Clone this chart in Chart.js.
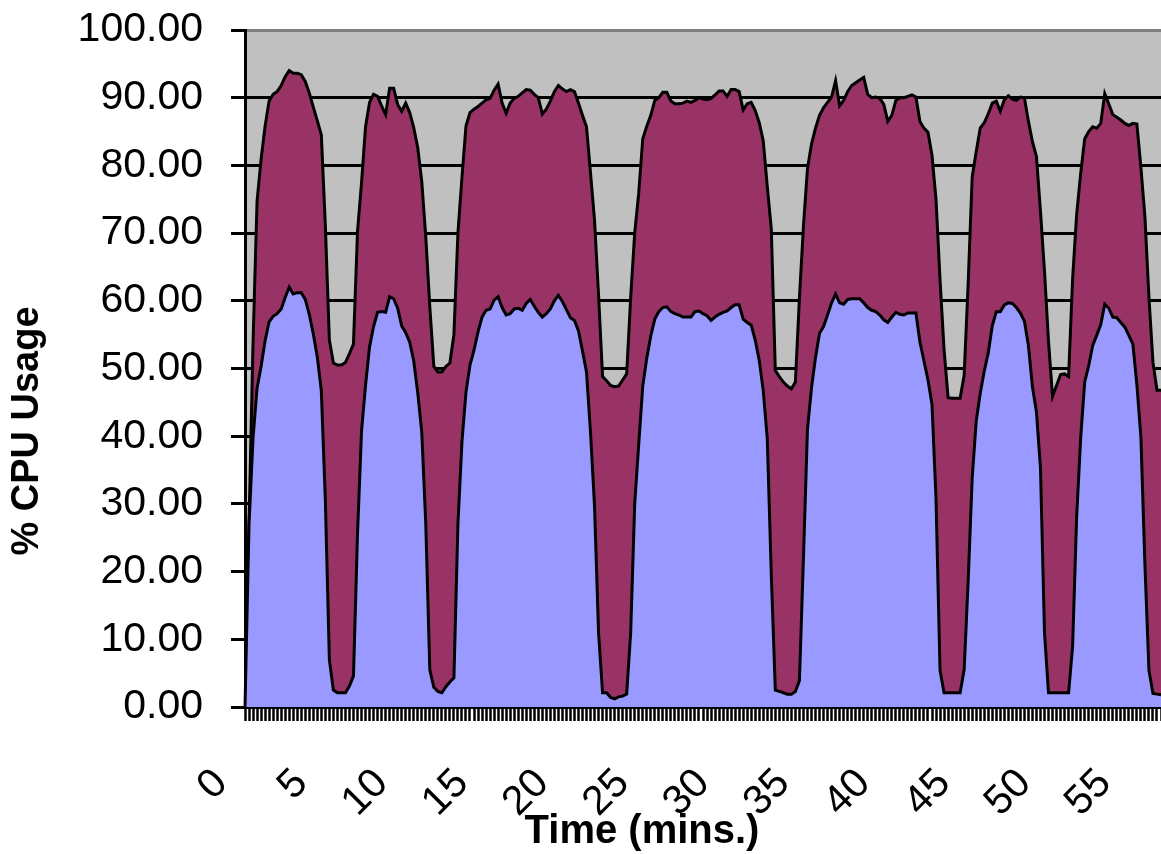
<!DOCTYPE html>
<html>
<head>
<meta charset="utf-8">
<title>% CPU Usage</title>
<script src="https://cdn.jsdelivr.net/npm/chart.js@4.4.1/dist/chart.umd.min.js"></script>
<style>
html, body { margin:0; padding:0; background:#fff; overflow:hidden; }
canvas { display:block; }
</style>
</head>
<body>
<canvas id="cpuChart" width="1161" height="854"></canvas>
<script>
// =======================
// DATA - one sample every 15 s
// =======================
const samplesPerLabel = 20; // a label every 5 minutes
const tickLabels = ['0', '5', '10', '15', '20', '25', '30', '35', '40', '45', '50', '55'];

// top edge of the stacked areas (total cpu)
const totalCpu = [
 0, 27, 53.8, 74.7, 80.9, 85.8, 89.5, 90.5, 90.9, 91.8,
 93.1, 94, 93.6, 93.6, 93.4, 92.4, 90.7, 88.6, 86.6, 84.5,
 71.1, 54.2, 50.8, 50.5, 50.5, 50.9, 52.2, 53.6, 70.2, 77.4,
 85.7, 89.3, 90.5, 90.2, 88.8, 87.5, 91.4, 91.4, 89, 88,
 89.2, 87.8, 85.6, 82.6, 77.6, 69.4, 59.1, 50.3, 49.5, 49.5,
 50.3, 50.8, 55, 70, 78.2, 85.8, 87.8, 88.3, 88.7, 89.2,
 89.7, 89.9, 91.1, 92, 89.2, 87.7, 89.2, 89.9, 90.2, 90.7,
 91.2, 91.1, 90.5, 90, 87.6, 88.3, 89.5, 90.9, 91.8, 91.3,
 90.9, 91.2, 90.9, 89.2, 87.4, 85.7, 78.9, 71.9, 60.9, 48.8,
 48.2, 47.5, 47.3, 47.4, 48.3, 49.2, 60.5, 70, 75.9, 83.9,
 85.8, 87.4, 89.6, 90, 90.8, 90.8, 89.5, 89.1, 89.1, 89.2,
 89.5, 89.3, 89.6, 90, 89.8, 89.7, 89.9, 90.4, 91, 91,
 90.2, 91.2, 91.2, 90.9, 88.2, 89.1, 89.3, 88.1, 86.3, 83.6,
 76.9, 70.6, 49.7, 48.8, 48, 47.4, 47, 48, 60.4, 71,
 79.5, 83.1, 85.5, 87.4, 88.5, 89.3, 90.1, 92.5, 88.8, 89.6,
 90.9, 91.8, 92.2, 92.6, 93, 90.5, 90, 90.1, 89.9, 89,
 86.5, 87.4, 89.6, 90, 90, 90.2, 90.4, 90.1, 86.5, 85.5,
 84.9, 81.5, 75, 63.1, 52.8, 45.7, 45.6, 45.6, 45.6, 49,
 62.5, 78.3, 82, 85.5, 86.3, 87.6, 89.2, 89.5, 88, 89.7,
 90.3, 89.8, 89.6, 90.1, 90, 86.5, 83.5, 81.3, 73.2, 64.4,
 54, 45.9, 47.5, 49.1, 49.2, 48.8, 63.3, 72.7, 78.8, 83.9,
 85, 85.7, 85.5, 86.2, 90.6, 89.1, 87.5, 87.1, 86.7, 86.2,
 85.9, 86.2, 86.1, 79.7, 72.4, 60.5, 50.9, 46.8, 46.8
];

// lower (blue) area
const userCpu = [
 0, 27, 39.7, 47.1, 50.3, 54.1, 56.9, 57.7, 58.1, 58.8,
 60.5, 62, 61, 61.2, 61.2, 60.2, 58, 55.1, 51.7, 46.7,
 30.5, 7, 2.5, 2.1, 2.1, 2.1, 3.1, 4.6, 25.5, 40.7,
 47.5, 53.2, 56.2, 58.3, 58.4, 58.3, 60.6, 60.3, 58.9, 56.3,
 55.3, 53.9, 51.1, 46.4, 40.6, 27, 5.5, 2.9, 2.3, 2.1,
 3, 3.7, 4.3, 27, 39.2, 46.5, 50.5, 52.7, 55.4, 57.6,
 58.6, 58.8, 60.1, 60.6, 59, 57.9, 58.1, 58.8, 58.9, 58.6,
 59.6, 60.2, 59.2, 58.3, 57.6, 58.1, 58.8, 60, 60.8, 59.9,
 58.7, 57.5, 57.1, 55.6, 52.6, 49.5, 40.6, 29.7, 11, 2.1,
 2.1, 1.4, 1.2, 1.5, 1.6, 1.9, 11, 30, 38.8, 47.4,
 51.5, 54.8, 57.3, 58.4, 59, 59.1, 58.4, 58.1, 57.9, 57.6,
 57.6, 57.6, 58.4, 58.5, 58.1, 57.8, 57.1, 57.6, 58, 58.3,
 58.5, 59, 59.4, 59.4, 57.3, 56.8, 56.4, 54.2, 51.2, 46.7,
 39.6, 19.5, 2.5, 2.3, 2.1, 1.9, 1.9, 2.3, 3.9, 22,
 41, 47.1, 51.6, 55.2, 56.2, 57.9, 59.7, 61, 59.7, 59.5,
 60.2, 60.3, 60.3, 60.3, 59.7, 59, 58.6, 58.4, 57.9, 57.2,
 56.8, 57.6, 58.3, 58, 57.9, 58.2, 58.2, 58.2, 53.9, 51.1,
 48.3, 44.7, 30.7, 5.4, 2.1, 2.1, 2.1, 2.1, 2.1, 5.5,
 18.6, 33.8, 42.2, 46.3, 49.6, 52.3, 56.3, 58.4, 58.4, 59.4,
 59.7, 59.6, 59, 58.2, 57, 53.4, 47.3, 43.6, 35.3, 11,
 2.1, 2.1, 2.1, 2.1, 2.1, 2.1, 9, 28, 39.7, 48,
 50.4, 53.4, 54.9, 56.5, 59.5, 58.9, 57.6, 57.5, 56.8, 56.1,
 54.9, 53.6, 47.6, 39.8, 21, 5.4, 2, 1.9, 1.8
];

const categories = totalCpu.map((v, i) => i);

// =======================
// PLUGINS
// =======================
const FONT = '"Liberation Sans", Arial, Helvetica, sans-serif';

const plotBg = {
    id: 'plotBg',
    beforeDraw(chart) {
        const { ctx, chartArea: a } = chart;
        ctx.save();
        ctx.fillStyle = '#c0c0c0';
        ctx.fillRect(a.left, a.top, a.right - a.left, a.bottom - a.top);
        ctx.restore();
    }
};

// slanted minute labels, placed from the x scale
const minuteLabels = {
    id: 'minuteLabels',
    afterDraw(chart) {
        const ctx = chart.ctx;
        const xs = chart.scales.x;
        ctx.save();
        ctx.fillStyle = '#000';
        ctx.font = '41px ' + FONT;
        ctx.textAlign = 'right';
        ctx.textBaseline = 'alphabetic';
        tickLabels.forEach((txt, k) => {
            const px = xs.getPixelForValue(k * samplesPerLabel);
            ctx.save();
            ctx.translate(px - 16, xs.top + 78);
            ctx.rotate(-Math.PI / 4);
            ctx.fillText(txt, 0, 0);
            ctx.restore();
        });
        ctx.restore();
    }
};

const axisTitles = {
    id: 'axisTitles',
    afterDraw(chart) {
        const ctx = chart.ctx;
        ctx.save();
        ctx.fillStyle = '#000';
        ctx.textAlign = 'center';
        ctx.textBaseline = 'middle';
        ctx.font = 'bold 40px ' + FONT;
        ctx.fillText('Time (mins.)', 642, 832);
        ctx.font = 'bold 38px ' + FONT;
        ctx.translate(28, 431);
        ctx.rotate(-Math.PI / 2);
        ctx.fillText('% CPU Usage', 0, 0);
        ctx.restore();
    }
};

// =======================
// CHART
// =======================
Chart.defaults.font.family = FONT;

const cpuChart = new Chart(
document.getElementById('cpuChart'),
{
    type: 'line',
    data: {
        labels: categories,
        datasets: [
            {
                label: 'User',
                data: userCpu,
                borderColor: '#000',
                backgroundColor: '#9999ff',
                borderWidth: 3,
                fill: 'origin',
                pointRadius: 0,
                tension: 0
            },
            {
                label: 'Total',
                data: totalCpu,
                borderColor: '#000',
                backgroundColor: '#993366',
                borderWidth: 3,
                fill: 'origin',
                pointRadius: 0,
                tension: 0
            }
        ]
    },
    options: {
        responsive: false,
        animation: false,
        devicePixelRatio: 1,
        layout: { padding: { top: 30, right: 0, left: 0, bottom: 0 } },
        plugins: {
            legend: { display: false },
            tooltip: { enabled: false }
        },
        scales: {
            x: {
                type: 'category',
                offset: false,
                afterFit(scale) {
                    scale.height = 147;
                    scale.paddingLeft = 0;
                    scale.paddingRight = 0;
                },
                border: { display: true, color: '#000', width: 3 },
                grid: {
                    drawOnChartArea: false,
                    drawTicks: true,
                    tickLength: 14,
                    tickWidth: 2.5,
                    tickColor: '#000'
                },
                ticks: {
                    display: false,
                    autoSkip: false
                }
            },
            y: {
                min: 0,
                max: 100,
                afterFit(scale) {
                    scale.width = 245;
                    scale.paddingTop = 0;
                    scale.paddingBottom = 0;
                },
                border: { display: true, color: '#000', width: 3 },
                grid: {
                    color: ctx => ctx.tick && ctx.tick.value === 100 ? '#808080' : '#000',
                    lineWidth: 3,
                    tickLength: 14,
                    tickWidth: 3,
                    tickColor: '#000'
                },
                ticks: {
                    stepSize: 10,
                    padding: 28,
                    color: '#000',
                    font: { size: 41 },
                    callback: v => v.toFixed(2)
                }
            }
        }
    },
    plugins: [plotBg, minuteLabels, axisTitles]
});
</script>
</body>
</html>
